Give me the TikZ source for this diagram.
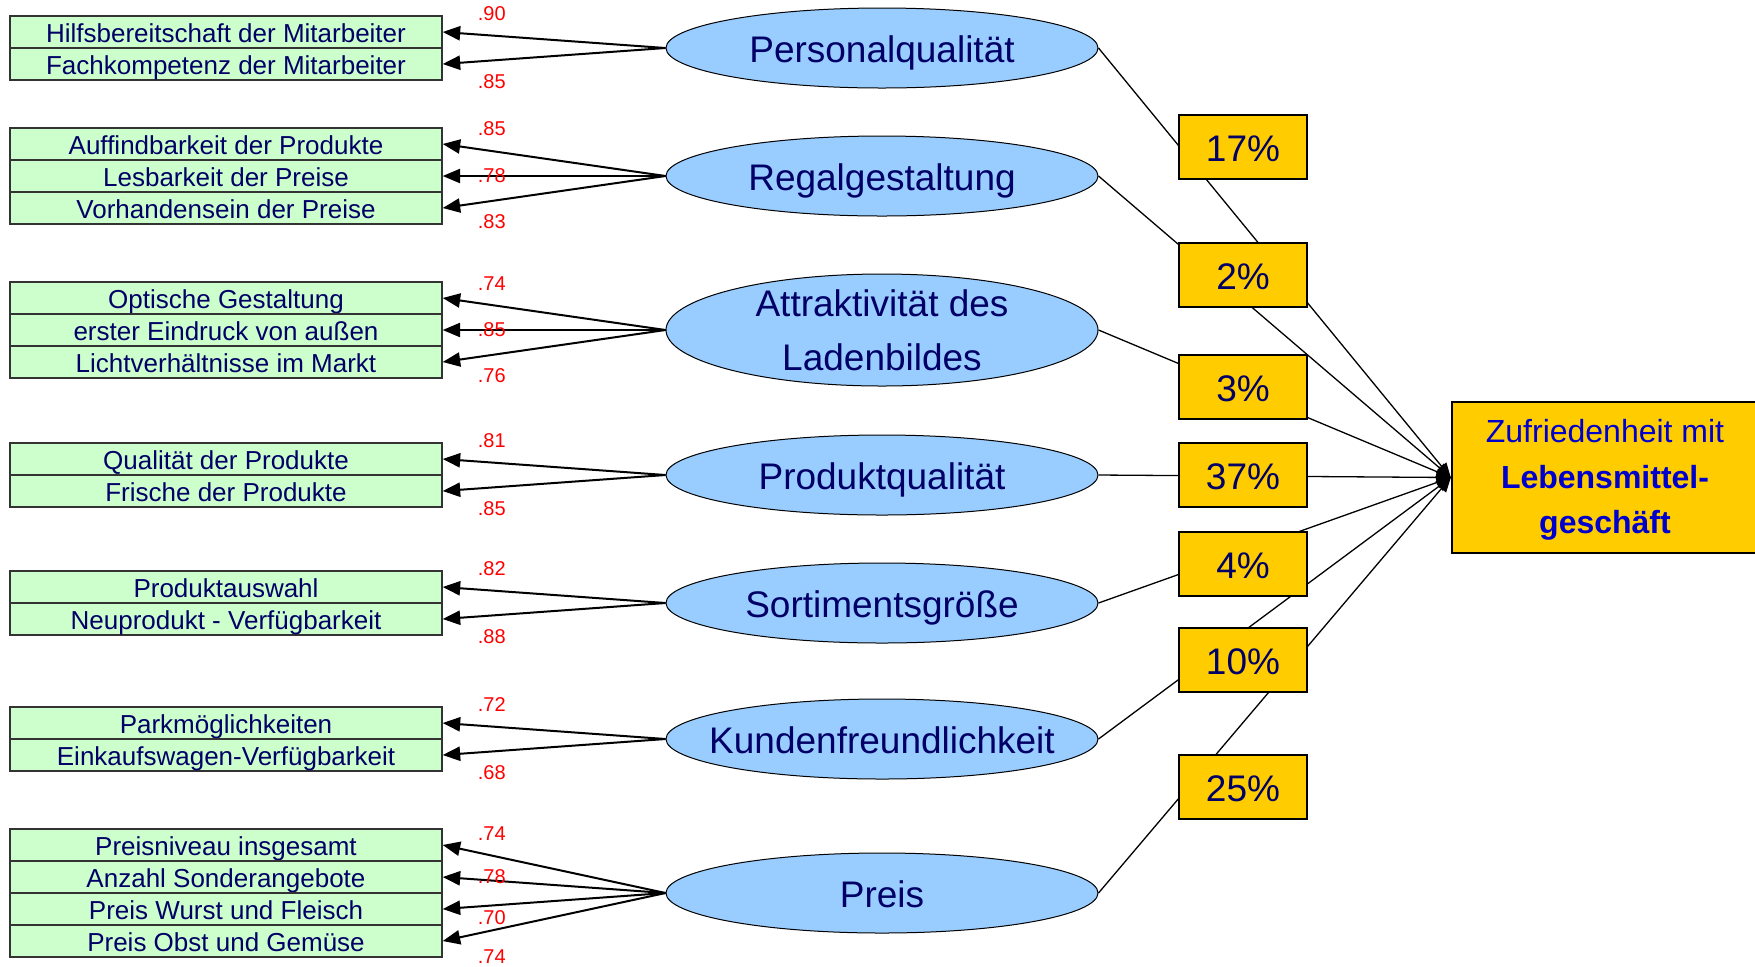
\documentclass[tikz,border=0pt]{standalone}
\usepackage{fontspec}
\setmainfont{Liberation Sans}
\usetikzlibrary{shapes,arrows}
\usetikzlibrary{positioning}
\definecolor{itemgreen}{HTML}{CCFFCC}
\definecolor{factorblue}{HTML}{99CCFF}
\definecolor{weightgold}{HTML}{FFCC00}
\definecolor{navytext}{HTML}{000066}
\definecolor{goalblue}{HTML}{0000CC}
\tikzstyle{item} = [rectangle, draw=black!80, line width=0.8pt, fill=itemgreen,
    text=navytext, minimum width=216pt, minimum height=16pt, inner sep=0pt,
    text height=10.5pt, text depth=0.5pt, font=\fontsize{13}{15}\selectfont]
\tikzstyle{factor} = [draw, ellipse, fill=factorblue, text=navytext, line width=0.5pt,
    minimum width=216pt, minimum height=40pt, inner sep=0pt,
    font=\fontsize{18.5}{27}\selectfont]
\tikzstyle{weight} = [rectangle, draw, line width=1.2pt, fill=weightgold, text=navytext,
    minimum width=64pt, minimum height=32pt, text height=14pt, text depth=0pt,
    font=\fontsize{18.5}{22}\selectfont]
\tikzstyle{goal} = [rectangle, draw, line width=1.2pt, fill=weightgold, text=goalblue,
    minimum width=153pt, minimum height=75.5pt, align=center,
    font=\fontsize{16}{22.75}\selectfont]
\tikzstyle{line} = [draw, line width=1pt, -triangle 45]
\tikzstyle{link} = [draw, line width=0.65pt, -triangle 45]
\tikzstyle{loading} = [red, inner sep=0pt, pos=0.78, font=\fontsize{10}{12}\selectfont]

\begin{document}
\begin{tikzpicture}[x=0.5pt, y=-0.5pt, node distance=16pt]
  \useasboundingbox (0,0) rectangle (1755,966);
  % Place nodes
  \node [factor, text height=14pt, text depth=0pt] (pers) at (882,48) {Personalqualität};
  \node [factor, text height=14pt, text depth=0pt] (regal) at (882,176) {Regalgestaltung};
  \node [factor, minimum height=56pt, inner ysep=-2pt, align=center] (laden) at (882,330)
    {Attraktivität des\\Ladenbildes};
  \node [factor, text height=14pt, text depth=0pt] (prod) at (882,475) {Produktqualität};
  \node [factor, text height=14pt, text depth=0pt] (sort) at (882,603) {Sortimentsgröße};
  \node [factor, text height=14pt, text depth=0pt, inner xsep=-12pt] (kund) at (882,739)
    {Kundenfreundlichkeit};
  \node [factor, text height=14pt, text depth=0pt] (preis) at (882,893) {Preis};

  \node [item] (h1) at (226,32) {Hilfsbereitschaft der Mitarbeiter};
  \node [item, below of=h1] (h2) {Fachkompetenz der Mitarbeiter};

  \node [item] (r1) at (226,144) {Auffindbarkeit der Produkte};
  \node [item, below of=r1] (r2) {Lesbarkeit der Preise};
  \node [item, below of=r2] (r3) {Vorhandensein der Preise};

  \node [item] (a1) at (226,298) {Optische Gestaltung};
  \node [item, below of=a1] (a2) {erster Eindruck von außen};
  \node [item, below of=a2] (a3) {Lichtverhältnisse im Markt};

  \node [item] (q1) at (226,459) {Qualität der Produkte};
  \node [item, below of=q1] (q2) {Frische der Produkte};

  \node [item] (s1) at (226,587) {Produktauswahl};
  \node [item, below of=s1] (s2) {Neuprodukt - Verfügbarkeit};

  \node [item] (k1) at (226,723) {Parkmöglichkeiten};
  \node [item, below of=k1] (k2) {Einkaufswagen-Verfügbarkeit};

  \node [item] (p1) at (226,845) {Preisniveau insgesamt};
  \node [item, below of=p1] (p2) {Anzahl Sonderangebote};
  \node [item, below of=p2] (p3) {Preis Wurst und Fleisch};
  \node [item, below of=p3] (p4) {Preis Obst und Gemüse};

  \node [goal] (zuf) at (1605,477.5)
    {\rule{0pt}{14pt}Zufriedenheit mit\\\textbf{Lebensmittel-}\\\textbf{geschäft}};

  % loadings
  \path [line] (pers.west) -- node[loading, above=7pt] {.90} (h1.east);
  \path [line] (pers.west) -- node[loading, below=6.5pt] {.85} (h2.east);

  \path [line] (regal.west) -- node[loading, above=7pt] {.85} (r1.east);
  \path [line] (regal.west) -- node[loading] {.78} (r2.east);
  \path [line] (regal.west) -- node[loading, below=6.5pt] {.83} (r3.east);

  \path [line] (laden.west) -- node[loading, above=7pt] {.74} (a1.east);
  \path [line] (laden.west) -- node[loading] {.85} (a2.east);
  \path [line] (laden.west) -- node[loading, below=6.5pt] {.76} (a3.east);

  \path [line] (prod.west) -- node[loading, above=7pt] {.81} (q1.east);
  \path [line] (prod.west) -- node[loading, below=6.5pt] {.85} (q2.east);

  \path [line] (sort.west) -- node[loading, above=7pt] {.82} (s1.east);
  \path [line] (sort.west) -- node[loading, below=6.5pt] {.88} (s2.east);

  \path [line] (kund.west) -- node[loading, above=7pt] {.72} (k1.east);
  \path [line] (kund.west) -- node[loading, below=6.5pt] {.68} (k2.east);

  \path [line] (preis.west) -- node[loading, above=7pt] {.74} (p1.east);
  \path [line] (preis.west) -- node[loading, yshift=2pt] {.78} (p2.east);
  \path [line] (preis.west) -- node[loading, below=2pt] {.70} (p3.east);
  \path [line] (preis.west) -- node[loading, below=9pt] {.74} (p4.east);

  % paths to the goal
  \path [link] (pers.east) -- (zuf.west);
  \path [link] (regal.east) -- (zuf.west);
  \path [link] (laden.east) -- (zuf.west);
  \path [link] (prod.east) -- (zuf.west);
  \path [link] (sort.east) -- (zuf.west);
  \path [link] (kund.east) -- (zuf.west);
  \path [link] (preis.east) -- (zuf.west);

  % weights on top of the paths
  \node [weight] (w1) at (1243,147) {17\%};
  \node [weight] (w2) at (1243,275) {2\%};
  \node [weight] (w3) at (1243,387) {3\%};
  \node [weight] (w4) at (1243,475) {37\%};
  \node [weight] (w5) at (1243,564) {4\%};
  \node [weight] (w6) at (1243,660) {10\%};
  \node [weight] (w7) at (1243,787) {25\%};
\end{tikzpicture}
\end{document}
